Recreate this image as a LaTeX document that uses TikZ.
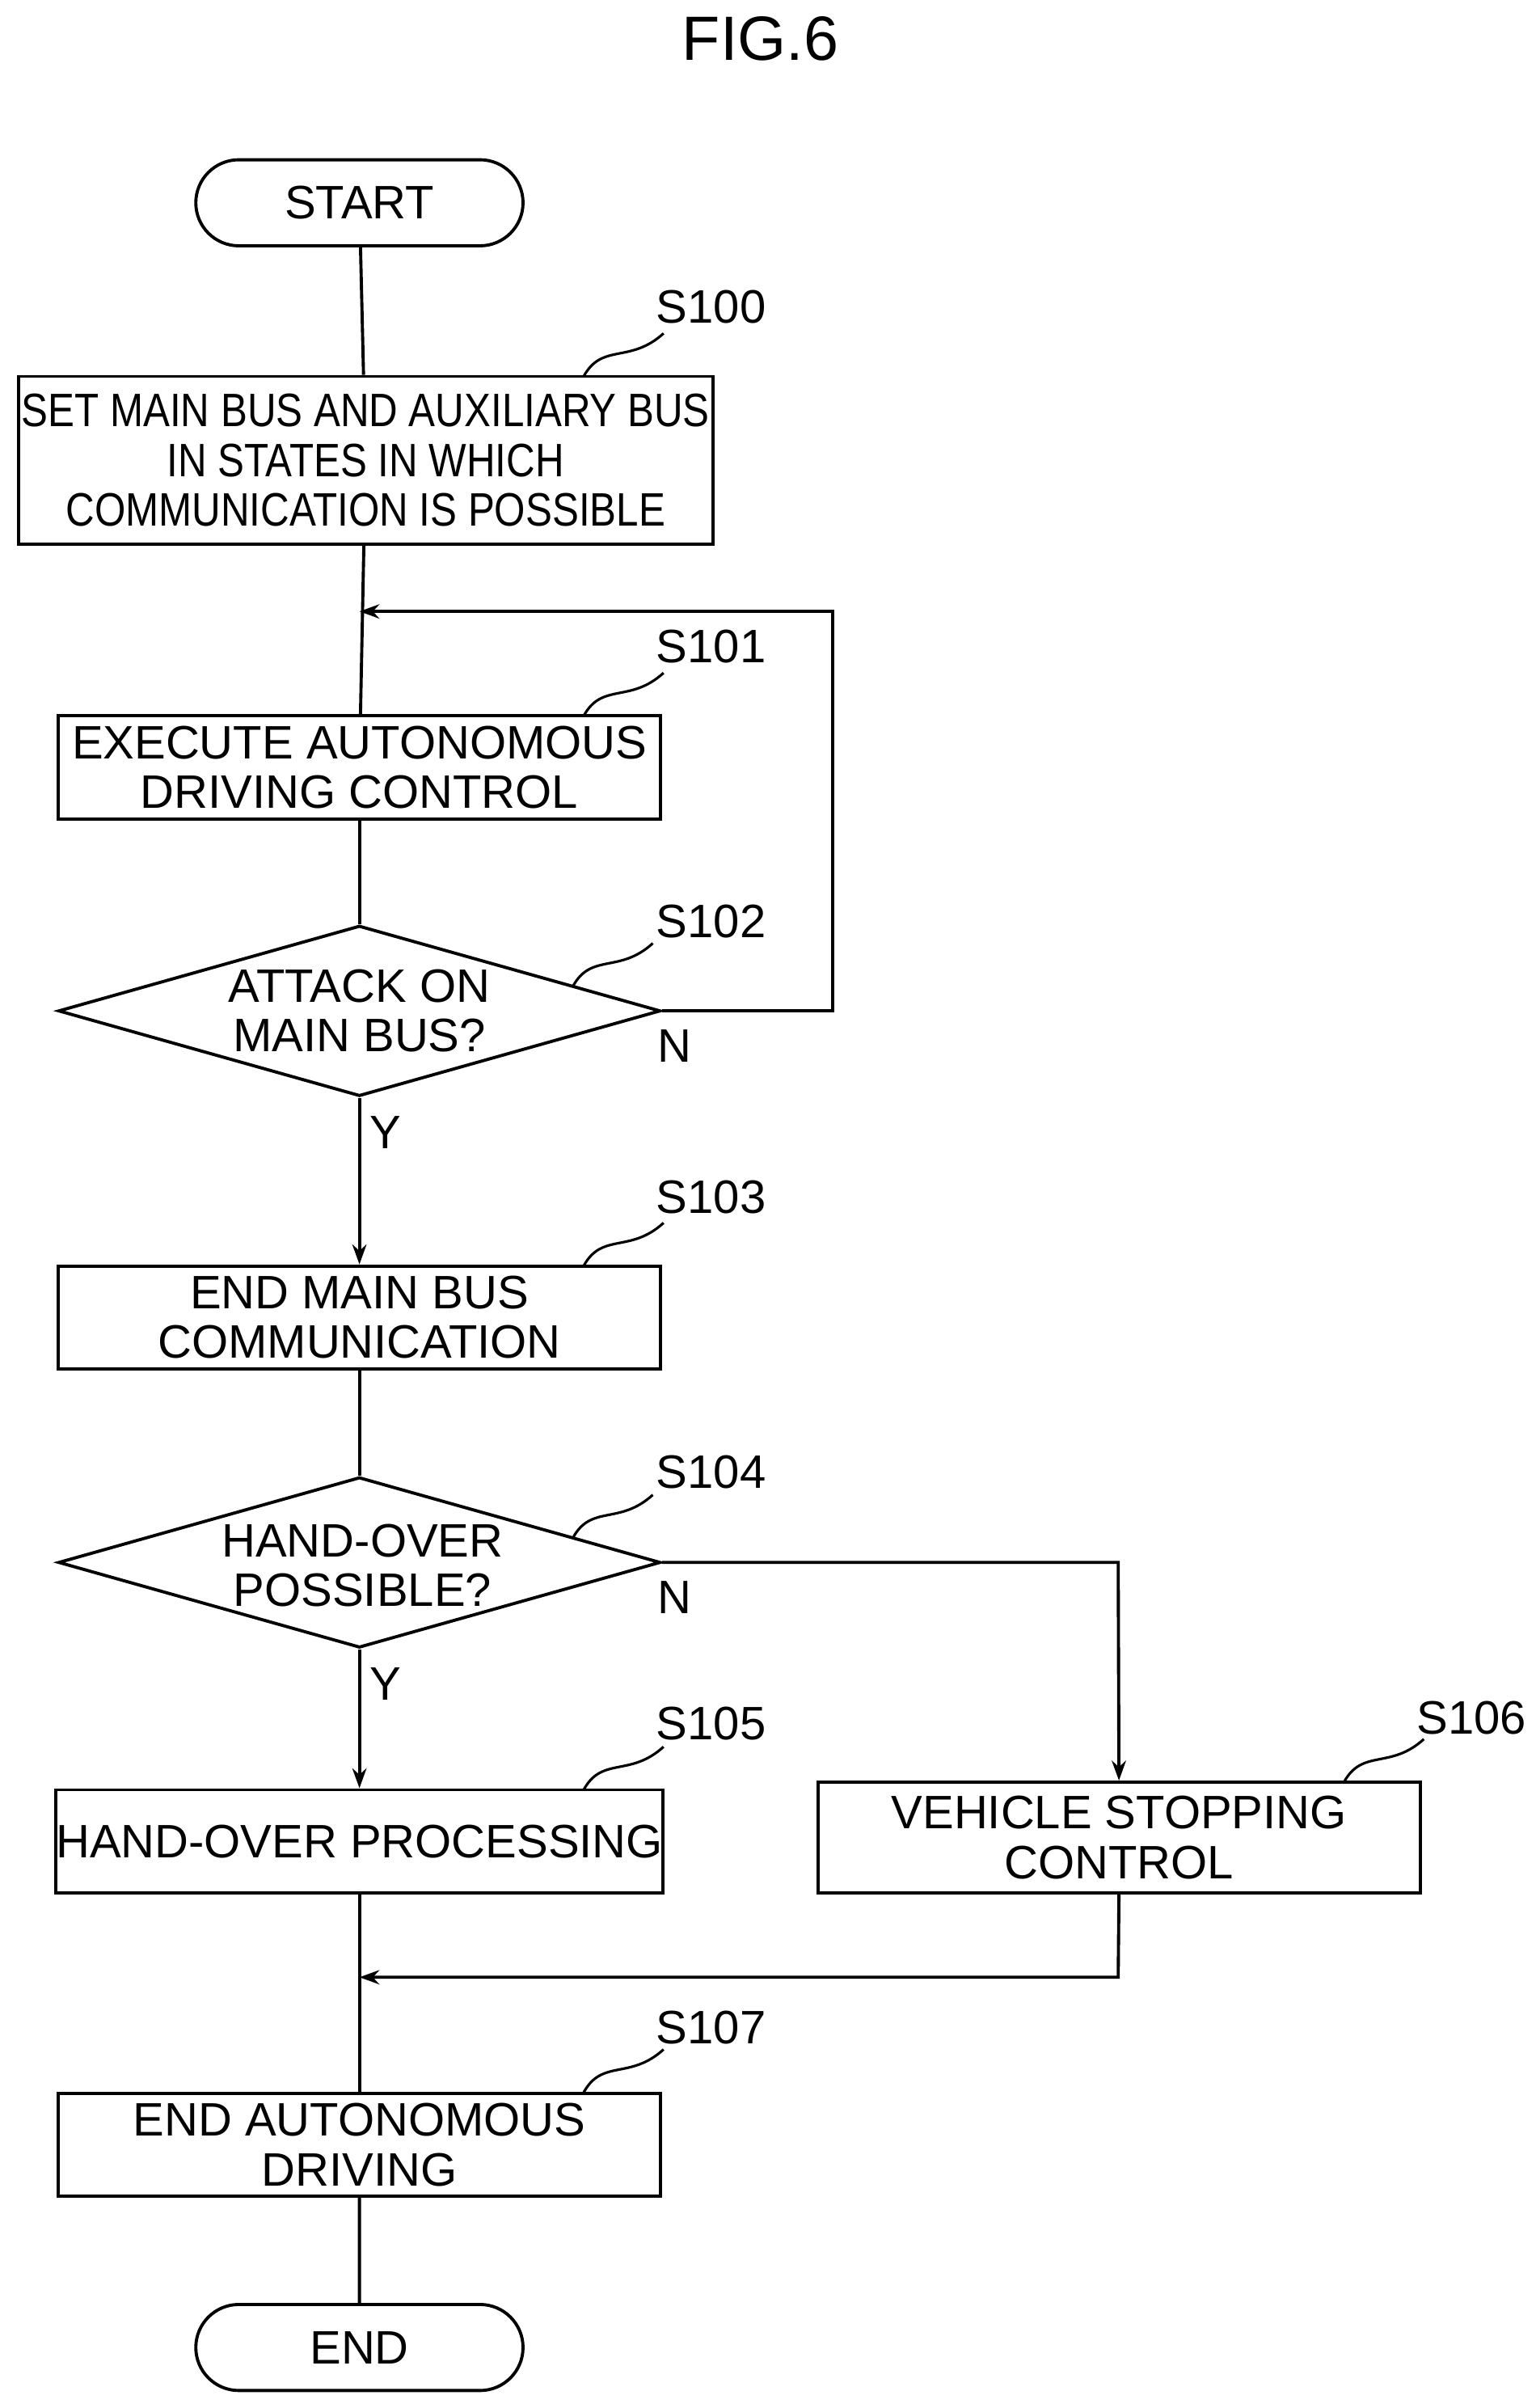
\documentclass[tikz,border=0pt]{standalone}
\usepackage{fontspec}
\setmainfont{Liberation Sans}
\usetikzlibrary{shapes.geometric,shapes.misc,arrows.meta}
\begin{document}
\begin{tikzpicture}[x=0.019cm,y=-0.019cm,line width=1.1pt,
  box/.style={draw,rectangle,align=center,inner sep=0pt,minimum width=7.448cm,minimum height=1.273cm,font=\fontsize{16.5}{17.5}\selectfont},
  term/.style={draw,rounded rectangle,minimum width=4.047cm,minimum height=1.064cm,inner sep=0pt,font=\fontsize{16.5}{17.5}\selectfont},
  dia/.style={draw,diamond,minimum width=7.448cm,minimum height=2.109cm,inner sep=0pt},
  txt/.style={align=center,inner sep=0pt,font=\fontsize{16.5}{17.5}\selectfont},
  lbl/.style={inner sep=0pt,font=\fontsize{16.5}{17.5}\selectfont},
  arr/.style={-{Stealth[length=7pt,width=5pt]}}]
\useasboundingbox (0,0) rectangle (1000,1567.4);
\node[lbl,font=\fontsize{22}{24}\selectfont] (fig) at (495,25) {FIG.6};
\node[term] (start) at (234,132) {START};
\node[box,minimum width=8.588cm,minimum height=2.071cm] (s100) at (238,299.5) {\scalebox{0.85}[1]{SET MAIN BUS AND AUXILIARY BUS}\\\scalebox{0.85}[1]{IN STATES IN WHICH}\\\scalebox{0.85}[1]{COMMUNICATION IS POSSIBLE}};
\node[box] (s101) at (234,499.5) {EXECUTE AUTONOMOUS\\DRIVING CONTROL};
\node[dia] (d1) at (234,658) {};
\node[txt] (d1t) at (234,658) {ATTACK ON\\MAIN BUS?};
\node[box] (s103) at (234,857.5) {END MAIN BUS\\COMMUNICATION};
\node[dia] (d2) at (234,1017) {};
\node[txt] (d2t) at (236,1019) {HAND-OVER\\POSSIBLE?};
\node[box] (s105) at (234,1198.5) {HAND-OVER PROCESSING};
\node[box,minimum height=1.368cm] (s106) at (728.5,1196) {VEHICLE STOPPING\\CONTROL};
\node[box] (s107) at (234,1396) {END AUTONOMOUS\\DRIVING};
\node[term] (end) at (234,1528) {END};
\coordinate (j1) at (234,398);
\coordinate (j2) at (542,398);
\coordinate (j3) at (542,658);
\coordinate (j4) at (728,1017);
\coordinate (j5) at (728,1287);
\coordinate (j6) at (234,1287);
\draw (start) -- (s100);
\draw (s100) -- (s101);
\draw (s101) -- (d1);
\draw[arr] (d1.east) -- (j3) -- (j2) -- (j1);
\draw[arr] (d1.south) -- (s103.north);
\draw (s103) -- (d2);
\draw[arr] (d2.east) -- (j4) -- (s106.north);
\draw[arr] (d2.south) -- (s105.north);
\draw (s105) -- (s107);
\draw[arr] (s106.south) -- (j5) -- (j6);
\draw (s107) -- (end);
\node[lbl] (n1) at (439,681) {N};
\node[lbl] (y1) at (251,737) {Y};
\node[lbl] (n2) at (439,1040) {N};
\node[lbl] (y2) at (251,1096) {Y};
\foreach \nm/\lx/\ly/\t in {a/463/200/S100,b/463/421/S101,c/463/600/S102,d/463/779/S103,e/463/958/S104,f/463/1122/S105,g/463/1320/S107,h/958/1118/S106}{
  \node[lbl] (l\nm) at (\lx,\ly) {\t};
}
\foreach \sx/\sy in {380/245,380/466,373/642,380/824,373/1001,380/1165,380/1362,875/1160}{
  \draw[line width=0.9pt] (\sx,\sy) .. controls (\sx+12,\sy-22) and (\sx+30,\sy-8) .. (\sx+52,\sy-28);
}
\end{tikzpicture}
\end{document}
